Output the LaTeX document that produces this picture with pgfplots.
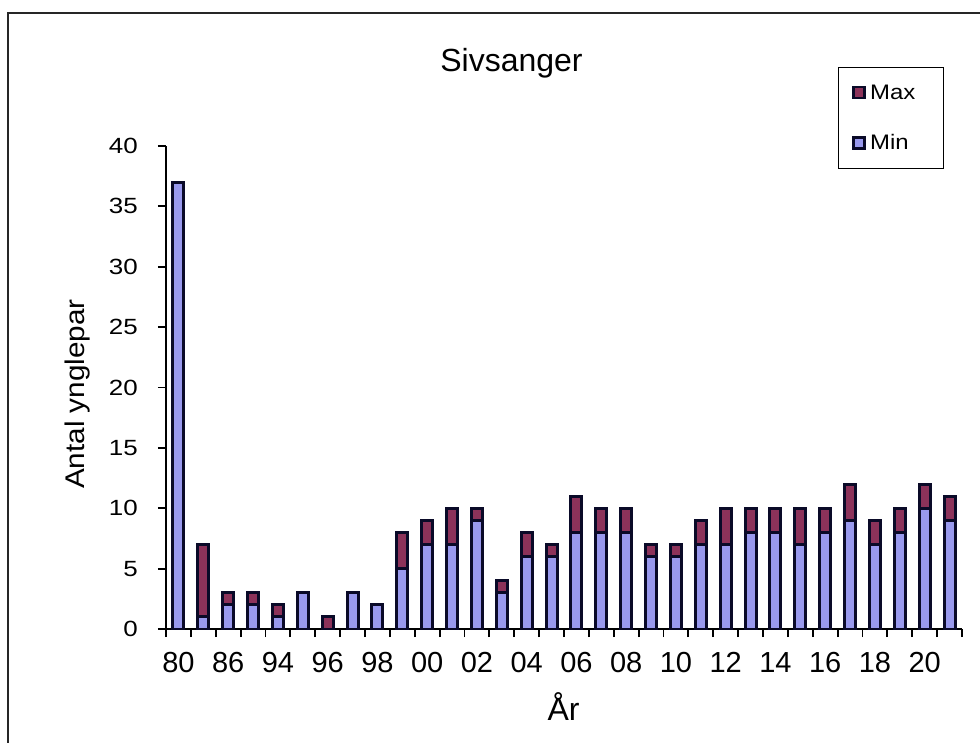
\documentclass[border=0pt]{standalone}
\usepackage{fontspec}
\setmainfont{Liberation Sans}
\newfontfamily\sfstretchA[FakeStretch=1.18]{Liberation Sans}
\newfontfamily\sfstretchB[FakeStretch=1.14]{Liberation Sans}
\newfontfamily\sfstretchC[FakeStretch=1.10]{Liberation Sans}
\usepackage{pgfplots}
\usepackage{pgfplotstable}
\usetikzlibrary{calc}
\pgfplotsset{compat=1.18}
\definecolor{minc}{RGB}{153,153,238}
\definecolor{maxc}{RGB}{140,50,90}
\definecolor{edge}{RGB}{10,10,40}
\newcommand\ytfont{\sfstretchA\fontsize{22}{26}\selectfont}
\newcommand\legfont{\sfstretchB\fontsize{21}{25}\selectfont}
\newcommand\ylfont{\sfstretchC\fontsize{27}{31}\selectfont}
\newcommand\xtfont{\fontsize{29}{33}\selectfont}
\newcommand\titfont{\fontsize{32}{36}\selectfont}

\pgfplotstableread{
i  min max
0  37  0
1  1   6
2  2   1
3  2   1
4  1   1
5  3   0
6  0   1
7  3   0
8  2   0
9  5   3
10 7   2
11 7   3
12 9   1
13 3   1
14 6   2
15 6   1
16 8   3
17 8   2
18 8   2
19 6   1
20 6   1
21 7   2
22 7   3
23 8   2
24 8   2
25 7   3
26 8   2
27 9   3
28 7   2
29 8   2
30 10  2
31 9   2
}\data

\begin{document}
\begin{tikzpicture}
\begin{axis}[
  scale only axis, width=796pt, height=483pt,
  xmin=-0.5, xmax=31.5, ymin=0, ymax=40,
  ybar stacked, bar width=11pt,
  axis x line=bottom, axis y line=left,
  axis line style={-, line width=2.2pt, black},
  ytick={0,5,...,40},
  tick align=outside, major tick length=8pt,
  tick style={line width=1.8pt, black},
  xtick={-0.5,0.5,...,31.5}, xticklabels={},
  extra x ticks={0,2,...,30},
  extra x tick labels={80,86,94,96,98,00,02,04,06,08,10,12,14,16,18,20},
  extra x tick style={major tick length=0pt},
  /pgf/number format/assume math mode=true,
  yticklabel style={font=\ytfont, anchor=east, inner sep=0pt, xshift=-20pt},
  xticklabel style={font=\xtfont, anchor=north, inner sep=0pt, yshift=-23pt},
  title={Sivsanger},
  title style={font=\titfont, at={(0.434,1.1408)}, anchor=base, inner sep=0pt},
  xlabel={År},
  xlabel style={font=\titfont, at={(0.4994,-0.1884)}, anchor=base, inner sep=0pt},
  ylabel={Antal ynglepar},
  ylabel style={font=\ylfont, at={(-0.1018,0.4865)}, anchor=base, inner sep=0pt},
  legend style={at={(0.844,1.1636)}, anchor=north west, draw=black, line width=1.2pt,
    font=\legfont, inner xsep=14pt, inner ysep=16pt, row sep=32pt, column sep=3pt,
    nodes={inner sep=1pt}},
  reverse legend,
  myleg/.style={legend image code/.code={\draw[##1, line width=2.8pt] (0pt,-5.5pt) rectangle (11pt,5.5pt);}},
]
\coordinate (o) at (rel axis cs:0,0);
\addplot[fill=minc, draw=edge, line width=3pt, myleg] table[x=i,y=min]{\data};
\addplot[fill=maxc, draw=edge, line width=3pt, myleg] table[x=i,y=max]{\data};
\legend{\makebox[58pt][l]{Min},\makebox[58pt][l]{Max}}
\end{axis}
\useasboundingbox ($(o)+(-166pt,-113pt)$) rectangle ($(o)+(814pt,629pt)$);
\draw[line width=2.5pt, black!85] ($(o)+(-158pt,-120pt)$) -- ($(o)+(-158pt,616pt)$) -- ($(o)+(830pt,616pt)$);
\end{tikzpicture}
\end{document}
